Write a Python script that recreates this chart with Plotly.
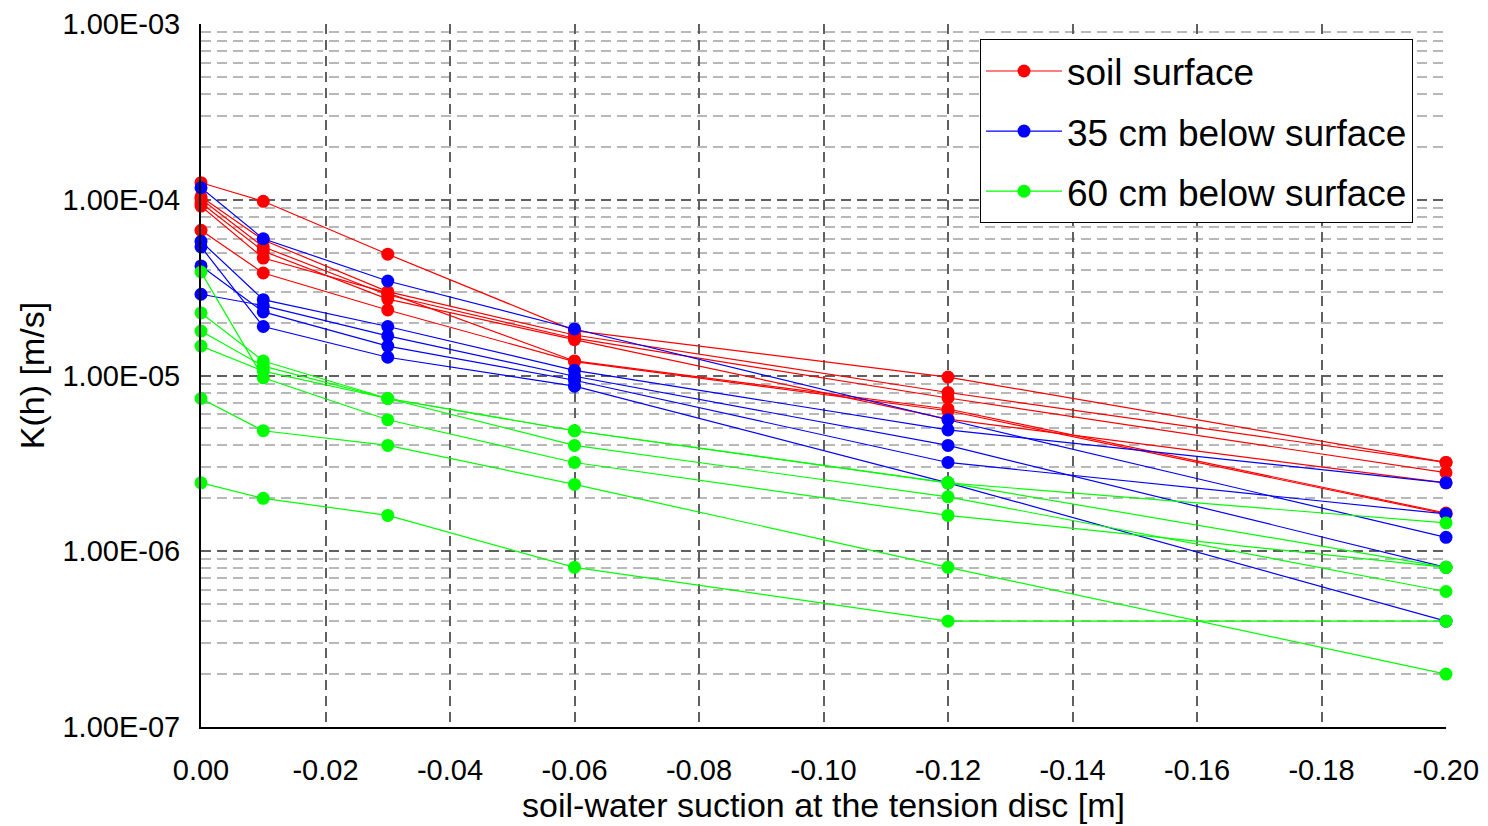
import plotly.graph_objects as go

suction = [0.0, -0.01, -0.03, -0.06, -0.12, -0.20]

soil_surface = [
    [1.25e-4, 9.8e-5, 4.9e-5, 1.8e-5, 9.8e-6, 3.2e-6],
    [1.04e-4, 5.9e-5, 3.0e-5, 1.7e-5, 8.0e-6, 3.2e-6],
    [1.01e-4, 5.4e-5, 2.87e-5, 1.63e-5, 7.45e-6, 2.8e-6],
    [9.6e-5, 5.1e-5, 2.72e-5, 1.6e-5, 5.65e-6, 2.45e-6],
    [9.2e-5, 4.66e-5, 2.95e-5, 1.21e-5, 6.45e-6, 1.65e-6],
    [6.7e-5, 3.83e-5, 2.36e-5, 1.2e-5, 6.3e-6, 1.63e-6],
]
below_35cm = [
    [1.17e-4, 6.0e-5, 3.45e-5, 1.84e-5, 5.6e-6, 1.2e-6],
    [5.8e-5, 2.7e-5, 1.9e-5, 1.07e-5, 4.9e-6, 2.45e-6],
    [5.4e-5, 1.9e-5, 1.27e-5, 8.7e-6, 2.45e-6, 4.0e-7],
    [4.2e-5, 2.3e-5, 1.47e-5, 9.4e-6, 3.2e-6, 1.63e-6],
    [2.9e-5, 2.5e-5, 1.68e-5, 9.9e-6, 4.0e-6, 8.1e-7],
]
below_60cm = [
    [2.45e-6, 2.0e-6, 1.6e-6, 8.1e-7, 4.0e-7, 4.0e-7],
    [7.4e-6, 4.85e-6, 4.0e-6, 2.4e-6, 8.1e-7, 2.0e-7],
    [2.27e-5, 1.21e-5, 7.4e-6, 4.85e-6, 2.45e-6, 1.45e-6],
    [1.79e-5, 1.13e-5, 7.4e-6, 4.85e-6, 2.45e-6, 8.1e-7],
    [1.47e-5, 1.06e-5, 7.4e-6, 4.0e-6, 2.04e-6, 5.9e-7],
    [3.88e-5, 9.7e-6, 5.6e-6, 3.2e-6, 1.6e-6, 8.1e-7],
]

groups = [
    ("soil surface", "#ff0000", soil_surface),
    ("35 cm below surface", "#0000ff", below_35cm),
    ("60 cm below surface", "#00ff00", below_60cm),
]

x_tickvals = [0.0, -0.02, -0.04, -0.06, -0.08, -0.10, -0.12, -0.14, -0.16, -0.18, -0.20]
x_ticktext = ["0.00", "-0.02", "-0.04", "-0.06", "-0.08", "-0.10", "-0.12", "-0.14", "-0.16", "-0.18", "-0.20"]
y_tickvals = [1e-7, 1e-6, 1e-5, 1e-4, 1e-3]
y_ticktext = ["1.00E-07", "1.00E-06", "1.00E-05", "1.00E-04", "1.00E-03"]
y_minor_mult = [2, 3, 4, 5, 6, 7, 8, 9]
y_minor_vals = [m * d for d in [1e-7, 1e-6, 1e-5, 1e-4] for m in y_minor_mult]

FONT = "Liberation Sans, Arial, sans-serif"

fig = go.Figure()
for name, color, series in groups:
    for i, vals in enumerate(series):
        fig.add_trace(go.Scatter(
            x=suction, y=vals, mode="lines+markers", name=name,
            legendgroup=name, showlegend=(i == 0),
            line=dict(color=color, width=1.2),
            marker=dict(color=color, size=13),
            cliponaxis=False,
        ))

fig.update_layout(
    width=1488, height=826,
    margin=dict(l=201, r=42, t=24, b=99),
    paper_bgcolor="white", plot_bgcolor="white",
    font=dict(family=FONT, color="black"),
    legend=dict(
        x=0.6257, y=0.978, xanchor="left", yanchor="top",
        bgcolor="white", bordercolor="black", borderwidth=1,
        font=dict(size=37, family=FONT), itemwidth=76,
        traceorder="grouped", tracegroupgap=9,
    ),
    xaxis=dict(
        range=[0.0, -0.20], tickvals=x_tickvals, ticktext=x_ticktext,
        tickfont=dict(size=29, family=FONT),
        showgrid=True, gridcolor="#606060", griddash="10px,6px", gridwidth=1.5,
        zeroline=False, showline=True, linecolor="black", linewidth=2,
        ticks="", ticklabelstandoff=16, automargin=False,
        title=dict(text="soil-water suction at the tension disc [m]",
                   font=dict(size=34, family=FONT), standoff=8),
    ),
    yaxis=dict(
        type="log", range=[-7, -3], tickvals=y_tickvals, ticktext=y_ticktext,
        tickfont=dict(size=29, family=FONT),
        showgrid=True, gridcolor="#606060", griddash="10px,6px", gridwidth=1.5,
        minor=dict(tickmode="array", tickvals=y_minor_vals, showgrid=True,
                   gridcolor="#b8b8b8", griddash="10px,6px", ticks=""),
        zeroline=False, showline=True, linecolor="black", linewidth=2,
        ticks="", ticklabelstandoff=13, automargin=False,
        title=dict(text="K(h) [m/s]", font=dict(size=34, family=FONT), standoff=8),
    ),
)

fig.write_html("out.html")
